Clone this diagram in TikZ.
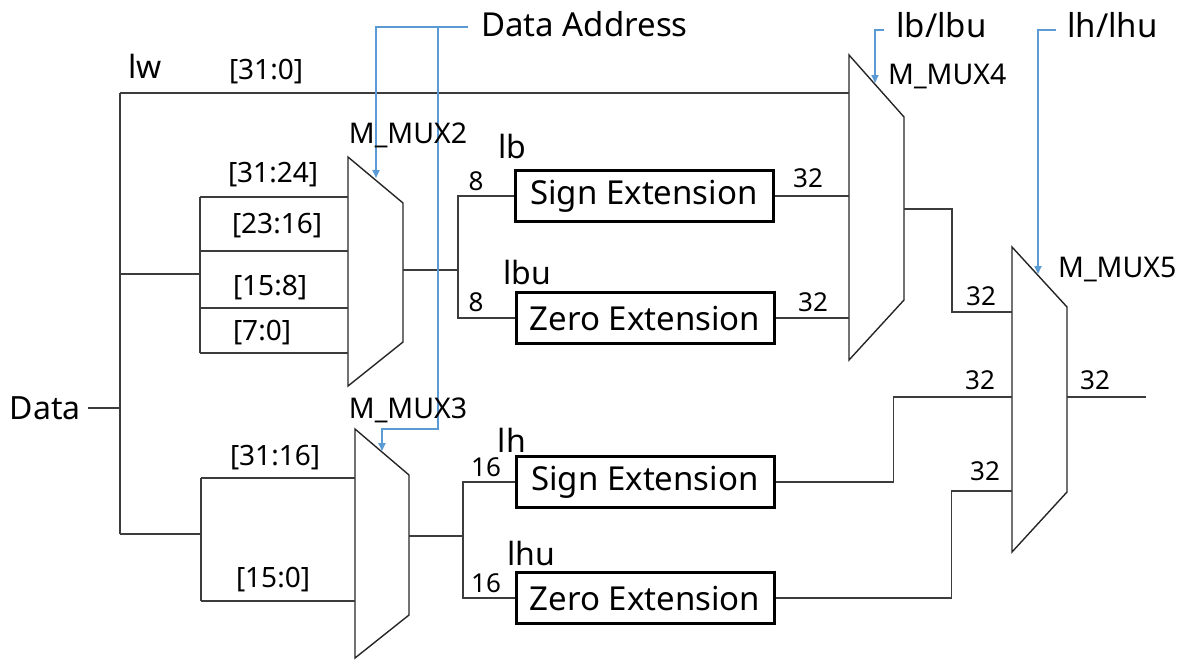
\documentclass[tikz,border=0pt]{standalone}
\usepackage{fontspec}
\setmainfont{Noto Sans}
\usetikzlibrary{arrows.meta}
\definecolor{ctrlblue}{RGB}{91,155,213}
\definecolor{wiregray}{RGB}{60,60,60}
\tikzset{
 wire/.style={draw=wiregray, line width=1.3pt},
 ctrl/.style={draw=ctrlblue, line width=1.8pt, -{Triangle[length=8pt,width=7pt]}},
 extbox/.style={draw=black, line width=3pt, minimum width=258pt, minimum height=51pt, inner sep=0pt, font=\fontsize{33}{33}\selectfont},
 mux/.style={draw=black!85, line width=1.4pt},
 lbl/.style={font=\fontsize{26}{26}\selectfont, inner sep=0pt},
 bits/.style={font=\fontsize{28}{28}\selectfont, inner sep=0pt},
 muxname/.style={font=\fontsize{28.5}{28.5}\selectfont, inner sep=0pt},
 big/.style={font=\fontsize{32}{32}\selectfont, inner sep=0pt},
 title/.style={font=\fontsize{33}{33}\selectfont, inner sep=0pt},
}
\begin{document}
\begin{tikzpicture}[x=1pt,y=-1pt]
\useasboundingbox (0,0) rectangle (1188,659);
% ---------- MUX corners ----------
\coordinate (m2tl) at (348,157); \coordinate (m2tr) at (403,203);
\coordinate (m2br) at (403,342); \coordinate (m2bl) at (348,386);
\coordinate (m3tl) at (355,429); \coordinate (m3tr) at (409,475);
\coordinate (m3br) at (409,615); \coordinate (m3bl) at (355,658);
\coordinate (m4tl) at (849,55);  \coordinate (m4tr) at (904,117);
\coordinate (m4br) at (904,300); \coordinate (m4bl) at (849,360);
\coordinate (m5tl) at (1012,247); \coordinate (m5tr) at (1067,307);
\coordinate (m5br) at (1067,492); \coordinate (m5bl) at (1012,552);
\draw[mux] (m2tl)--(m2tr)--(m2br)--(m2bl)--cycle;
\draw[mux] (m3tl)--(m3tr)--(m3br)--(m3bl)--cycle;
\draw[mux] (m4tl)--(m4tr)--(m4br)--(m4bl)--cycle;
\draw[mux] (m5tl)--(m5tr)--(m5br)--(m5bl)--cycle;
% ---------- pins ----------
\coordinate (m2i1) at (348,197); \coordinate (m2i2) at (348,251);
\coordinate (m2i3) at (348,308); \coordinate (m2i4) at (348,353);
\coordinate (m2o) at (403,270);
\coordinate (m3i1) at (355,478); \coordinate (m3i2) at (355,601);
\coordinate (m3o) at (409,536);
\coordinate (m4i1) at (849,93);
\coordinate (m4o) at (904,209);
\coordinate (m5i1) at (1012,312); \coordinate (m5i2) at (1012,397);
\coordinate (m5i3) at (1012,491); \coordinate (m5o) at (1067,397);
\coordinate (dout) at (1146,397);
% ---------- boxes ----------
\node[extbox] (se1) at (644,196) {Sign Extension};
\node[extbox] (ze1) at (645,318) {Zero Extension};
\node[extbox] (se2) at (645,482) {Sign Extension};
\node[extbox] (ze2) at (645,598) {Zero Extension};
% ---------- data bus ----------
\node[big, anchor=east] (data) at (81,408) {Data};
\coordinate (bus) at (120,408);
\coordinate (bustop) at (120,93);
\coordinate (busbot) at (120,534);
\coordinate (b2) at (120,274);
\coordinate (s2) at (200,274);
\coordinate (s3) at (201,534);
\draw[wire] ([xshift=7pt]data.east) -- (bus);
\draw[wire] (bustop) -- (busbot);
\draw[wire] (bustop) -- (m4i1);
\draw[wire] (b2) -- (s2);
\draw[wire] (m2i1 -| s2) -- (m2i4 -| s2);
\foreach \p in {m2i1,m2i2,m2i3,m2i4} \draw[wire] (\p -| s2) -- (\p);
\draw[wire] (busbot) -- (s3);
\draw[wire] (m3i1 -| s3) -- (m3i2 -| s3);
\foreach \p in {m3i1,m3i2} \draw[wire] (\p -| s3) -- (\p);
% ---------- mux2 / mux3 outputs ----------
\coordinate (j2) at (458,270);
\draw[wire] (m2o) -- (j2);
\draw[wire] (se1.west) -| (j2);
\draw[wire] (ze1.west) -| (j2);
\coordinate (j3) at (463,536);
\draw[wire] (m3o) -- (j3);
\draw[wire] (se2.west) -| (j3);
\draw[wire] (ze2.west) -| (j3);
% ---------- to mux4 / mux5 ----------
\draw[wire] (se1.east) -- (se1.east -| m4tl);
\draw[wire] (ze1.east) -- (ze1.east -| m4tl);
\draw[wire] (m4o) -- ++(48,0) |- (m5i1);
\draw[wire] (se2.east) -- ++(118,0) |- (m5i2);
\draw[wire] (ze2.east) -- ++(176,0) |- (m5i3);
\draw[wire] (m5o) -- (dout);
% ---------- control ----------
\node[title, anchor=west] (da) at (481,24) {Data Address};
\coordinate (da1) at (468,27);
\coordinate (da2) at (438,27);
\coordinate (m2sel) at (376,178);
\coordinate (m3sel) at (382,451);
\draw[ctrl] (da1) -| (m2sel);
\draw[ctrl] (da2) |- (382,429) -- (m3sel);
\node[title, anchor=west] (lbsel) at (896,25) {lb/lbu};
\coordinate (lbs) at (884,30);
\coordinate (m4sel) at (875,83);
\draw[ctrl] (lbs) -| (m4sel);
\node[title, anchor=west] (lhsel) at (1067,25) {lh/lhu};
\coordinate (lhs) at (1056,30);
\coordinate (m5sel) at (1038,274);
\draw[ctrl] (lhs) -| (m5sel);
% ---------- labels ----------
\node[muxname] (n2) at (408,135) {M\_MUX2};
\node[muxname] (n3) at (408,410) {M\_MUX3};
\node[muxname, anchor=west] (n4) at (888,76) {M\_MUX4};
\node[muxname, anchor=west] (n5) at (1058,270) {M\_MUX5};
\node[big] (lw) at (145,66) {lw};
\node[bits] (w0) at (266,72) {[31:0]};
\node[bits] (w1) at (273,175) {[31:24]};
\node[bits] (w2) at (277,226) {[23:16]};
\node[bits] (w3) at (270,288) {[15:8]};
\node[bits] (w4) at (262,333) {[7:0]};
\node[bits] (w5) at (275,458) {[31:16]};
\node[bits] (w6) at (273,580) {[15:0]};
\node[big] (lb) at (512,146) {lb};
\node[big] (lbu) at (527,272) {lbu};
\node[big] (lh) at (512,440) {lh};
\node[big] (lhu) at (531,553) {lhu};
\node[lbl] (e1) at (476,181) {8};
\node[lbl] (e2) at (476,302) {8};
\node[lbl] (e3) at (486,467) {16};
\node[lbl] (e4) at (486,583) {16};
\node[lbl] (t1) at (808,178) {32};
\node[lbl] (t2) at (813,302) {32};
\node[lbl] (t3) at (981,296) {32};
\node[lbl] (t4) at (980,380) {32};
\node[lbl] (t5) at (985,471) {32};
\node[lbl] (t6) at (1095,380) {32};
\end{tikzpicture}
\end{document}
